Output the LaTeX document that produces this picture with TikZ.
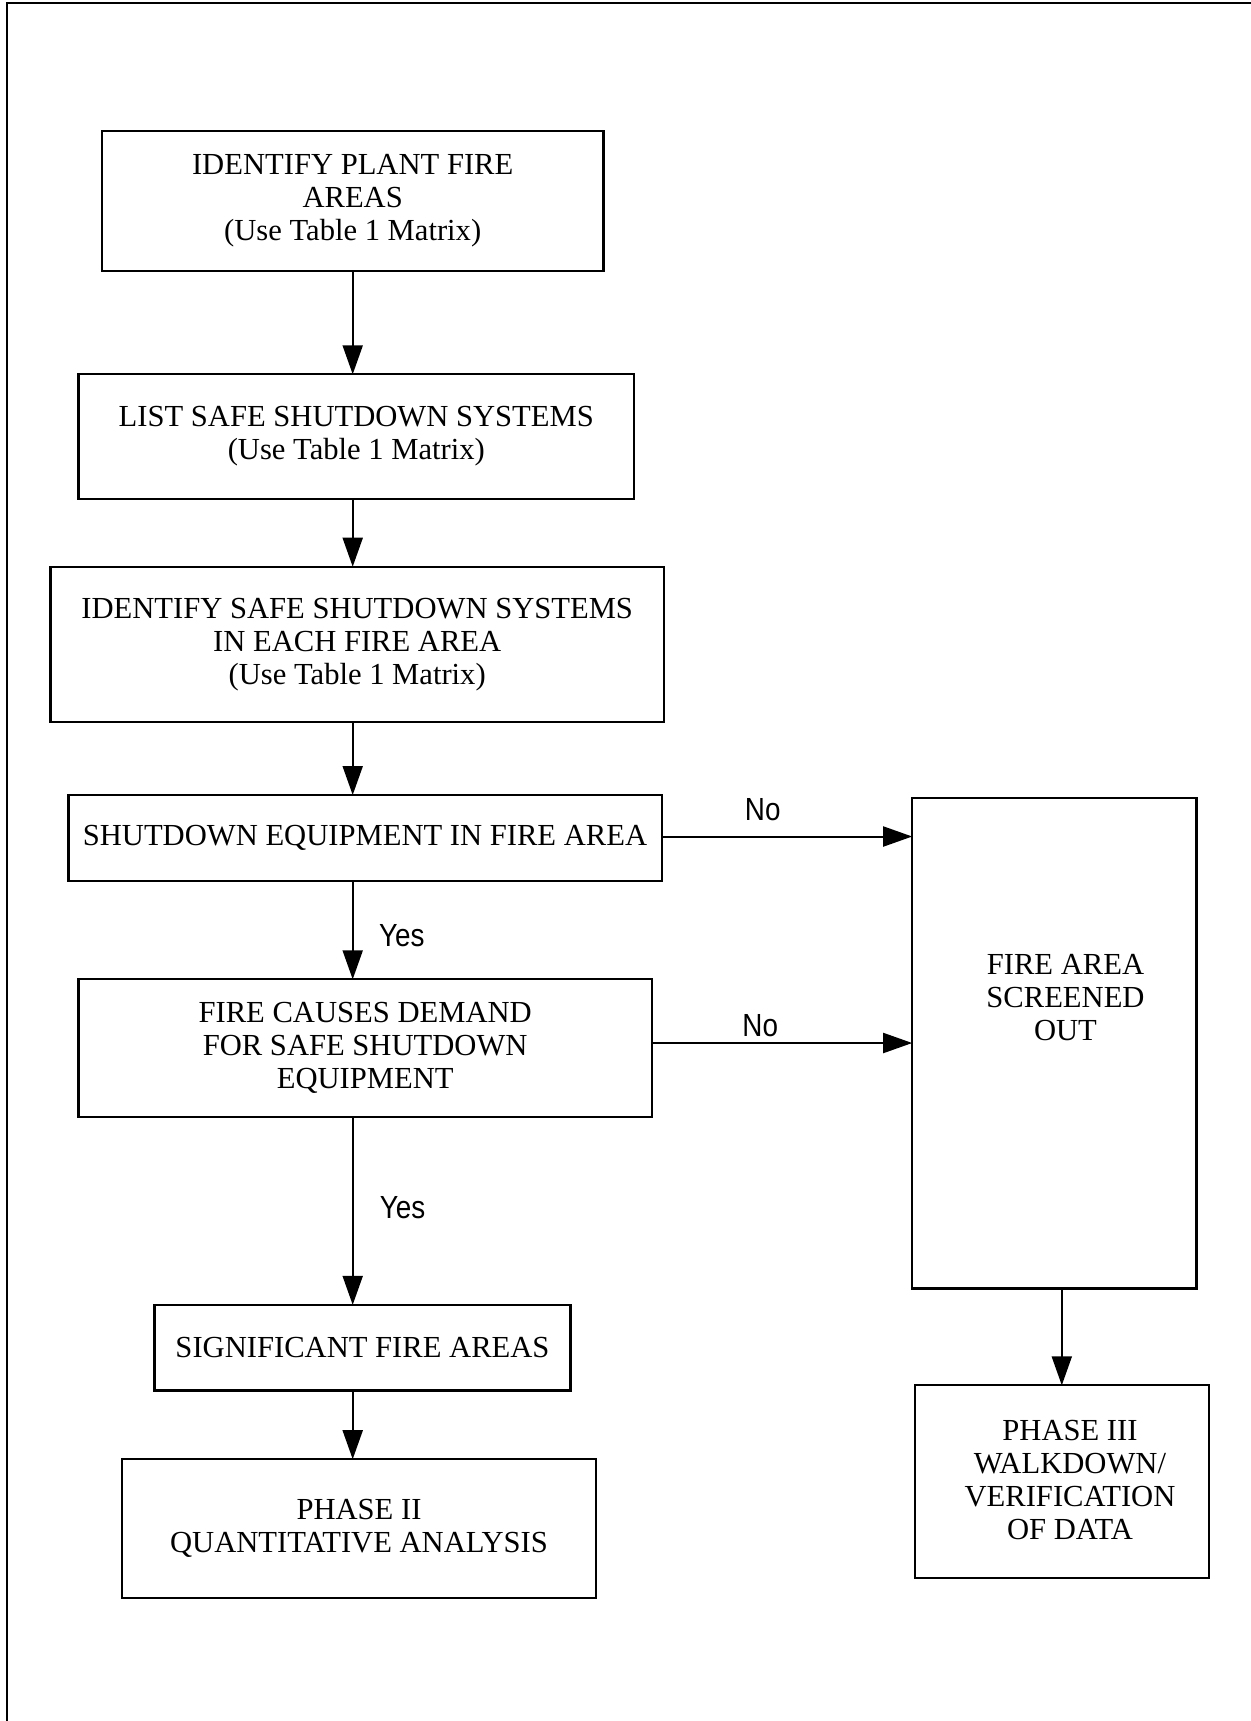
\documentclass[tikz,border=0pt]{standalone}
\usepackage{fontspec}
\setmainfont{Liberation Serif}
\newfontfamily\lblfont[FakeStretch=0.87]{Liberation Sans}
\usetikzlibrary{arrows.meta}

\begin{document}
\begin{tikzpicture}[
  x=0.5pt, y=-0.5pt,
  box/.style={draw, line width=1.15pt, rectangle, inner sep=0pt, outer sep=0pt,
              align=center, font=\fontsize{15.3pt}{16.4pt}\selectfont},
  boxtext/.style={align=center, inner sep=0pt, font=\fontsize{15.3pt}{16.4pt}\selectfont},
  arr/.style={line width=1pt, -{Triangle[length=14.5pt,width=10pt]}},
  lbl/.style={inner sep=0pt, font=\lblfont\fontsize{16pt}{18pt}\selectfont},
  frame/.style={line width=1.15pt}
]
% page area
\useasboundingbox (0,0) rectangle (1251,1721);
\fill[white] (0,0) rectangle (1251,1721);

% page frame (left and top rules)
\draw[frame] (7,1721) -- (7,3) -- (1251,3);

% main column
\node[box, minimum width=250.9pt, minimum height=69.85pt] (b1) at (352.7,200.9)
  {IDENTIFY PLANT FIRE\\AREAS\\(Use Table 1 Matrix)};
\node[box, minimum width=277.7pt, minimum height=62.2pt] (b2) at (356.3,436.5)
  {LIST SAFE SHUTDOWN SYSTEMS\\(Use Table 1 Matrix)};
\node[box, minimum width=306.8pt, minimum height=77.8pt] (b3) at (357.2,644.5)
  {IDENTIFY SAFE SHUTDOWN SYSTEMS\\IN EACH FIRE AREA\\(Use Table 1 Matrix)};
\node[box, minimum width=296.65pt, minimum height=43pt] (b4) at (365,838)
  {SHUTDOWN EQUIPMENT IN FIRE AREA};
\node[box, minimum width=286.6pt, minimum height=68.7pt] (b5) at (365.2,1048)
  {FIRE CAUSES DEMAND\\FOR SAFE SHUTDOWN\\EQUIPMENT};
\node[box, minimum width=208pt, minimum height=42.75pt] (b6) at (362.5,1347.6)
  {SIGNIFICANT FIRE AREAS};
\node[box, minimum width=237.05pt, minimum height=69.3pt] (b7) at (359,1528.5)
  {PHASE II\\QUANTITATIVE ANALYSIS};

% right column
\node[box, minimum width=142.2pt, minimum height=245.35pt] (b8) at (1054.4,1043) {};
\node[boxtext] (t8) at (1065.5,997.7) {FIRE AREA\\SCREENED\\OUT};
\node[box, minimum width=147.05pt, minimum height=96.3pt] (b9) at (1061.8,1481.6) {};
\node[boxtext] (t9) at (1070,1480) {PHASE III\\WALKDOWN/\\VERIFICATION\\OF DATA};

% connector guides
\coordinate (col) at (352.7,0);
\coordinate (row1) at (0,836.5);

% vertical flow
\draw[arr] (b1.south -| col) -- (b2.north -| col);
\draw[arr] (b2.south -| col) -- (b3.north -| col);
\draw[arr] (b3.south -| col) -- (b4.north -| col);
\draw[arr] (b4.south -| col) -- (b5.north -| col);
\draw[arr] (b5.south -| col) -- (b6.north -| col);
\draw[arr] (b6.south -| col) -- (b7.north -| col);

% screening branches
\draw[arr] (b4.east |- row1) -- (b8.west |- row1);
\draw[arr] (b5.east |- b8.west) -- (b8.west);
\draw[arr] (b8.south -| b9.north) -- (b9.north);

% branch labels
\node[lbl, anchor=base west] (y1) at (378.6,946.7) {Yes};
\node[lbl, anchor=base west] (y2) at (379.5,1218.8) {Yes};
\node[lbl, anchor=base west] (n1) at (744.5,820) {No};
\node[lbl, anchor=base west] (n2) at (742,1036) {No};
\end{tikzpicture}
\end{document}
